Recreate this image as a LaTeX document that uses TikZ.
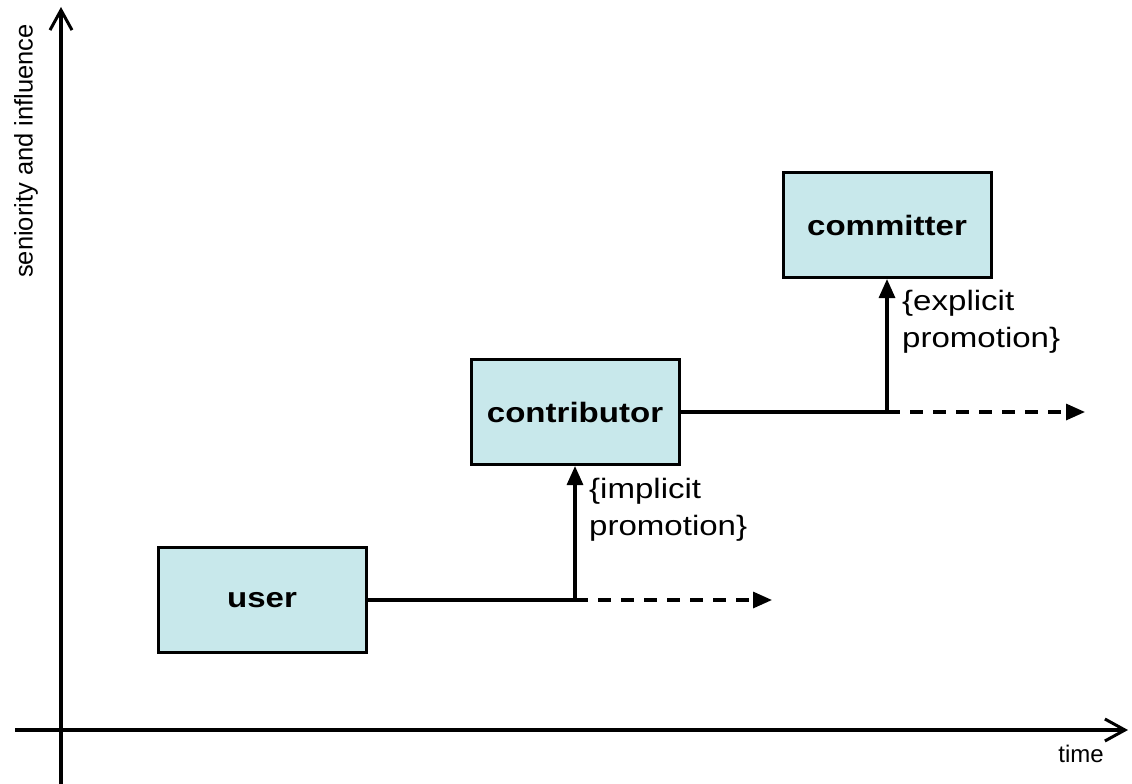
\documentclass[tikz,border=0pt]{standalone}
\usepackage{fontspec}
\setmainfont{Liberation Sans}
\newfontfamily\widesans{Liberation Sans}[FakeStretch=1.18]
\usetikzlibrary{arrows.meta}
\definecolor{boxfill}{RGB}{200,232,235}
\tikzset{
  role/.style={draw=black, line width=3pt, fill=boxfill, minimum width=208pt,
    minimum height=105pt, inner sep=0pt,
    font=\widesans\fontsize{28}{34}\selectfont\bfseries},
  axis/.style={line width=3.2pt, -{Straight Barb[length=20pt,width=22pt,line width=3pt]}},
  flow/.style={line width=3.2pt},
  promote/.style={line width=3.2pt, -{Triangle[length=19pt,width=16pt]}},
  later/.style={line width=3.2pt, dash pattern=on 13pt off 10pt, -{Triangle[length=19pt,width=16pt]}},
  note/.style={anchor=north west, align=left, inner sep=0pt,
    font=\widesans\fontsize{28}{37}\selectfont},
}
\begin{document}
\begin{tikzpicture}[x=1pt, y=-1pt]
\useasboundingbox (0,0) rectangle (1132,784);

% axes
\coordinate (ybot) at (61,784);
\coordinate (ytop) at (61,7);
\coordinate (xleft) at (15,730);
\coordinate (xright) at (1128,730);
\draw[axis] (ybot) -- (ytop);
\draw[axis] (xleft) -- (xright);
\node[rotate=90, font=\fontsize{25.5}{28}\selectfont, inner sep=0pt] (ylabel) at (26,151) {seniority and influence};
\node[font=\fontsize{24}{28}\selectfont, inner sep=0pt] (xlabel) at (1081,754) {time};

% roles
\node[role] (user) at (262,600) {user};
\node[role] (contrib) at (575,412) {contributor};
\node[role] (commit) at (887,225) {committer};

% branch points and open ends
\coordinate (j1) at (575,600);
\coordinate (e1) at (772,600);
\coordinate (j2) at (887,412);
\coordinate (e2) at (1085,412);

\draw[flow] (user.east) -- (j1);
\draw[later] (j1) -- (e1);
\draw[promote] (j1) -- (contrib.south);

\draw[flow] (contrib.east) -- (j2);
\draw[later] (j2) -- (e2);
\draw[promote] (j2) -- (commit.south);

% promotion notes
\node[note] (imp) at (589,478) {\{implicit\\promotion\}};
\node[note] (exp) at (902,290) {\{explicit\\promotion\}};
\end{tikzpicture}
\end{document}
